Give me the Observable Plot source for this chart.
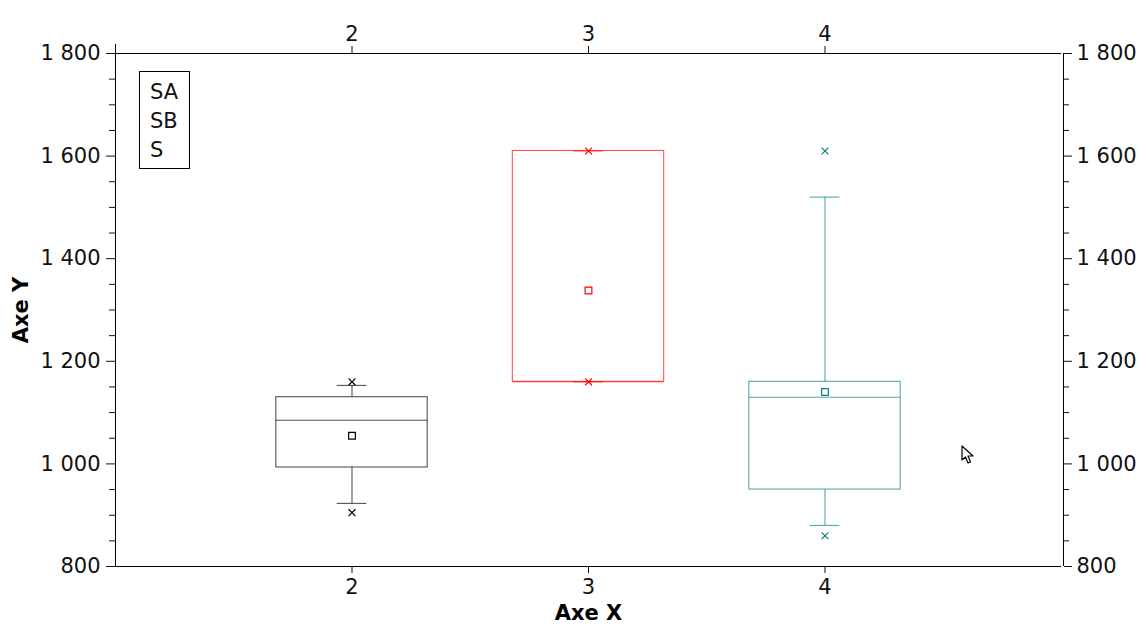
<!DOCTYPE html>
<html>
<head>
<meta charset="utf-8">
<script src="https://cdn.jsdelivr.net/npm/d3@7"></script>
<script src="https://cdn.jsdelivr.net/npm/@observablehq/plot@0.6"></script>
<style>
  html, body { margin: 0; padding: 0; background: white; }
  #wrap { position: relative; width: 1148px; height: 639px; font-family: "DejaVu Sans", sans-serif; }
  #legend { position: absolute; left: 139px; top: 71px; width: 51px; height: 98px; border: 1px solid black;
            font-size: 21px; line-height: 29px; padding-top: 6px; box-sizing: border-box; color: #111; }
  #legend div { padding-left: 10px; }
  #cursor { position: absolute; left: 961px; top: 445px; }
</style>
</head>
<body>
<div id="wrap"></div>
<script>
// ---- data ----
const categories = [2, 3, 4];
const colors     = ["black", "red", "teal"];
const whiskLow   = [923, 1160, 880];
const q1         = [993, 1160, 950];
const median     = [1085, 1160, 1130];
const q3         = [1130, 1610, 1160];
const whiskHigh  = [1153, 1610, 1520];
const meanV      = [1055, 1338, 1140];
const minV       = [905, 1160, 860];
const maxV       = [1160, 1610, 1610];
const legendLabels = ["SA", "SB", "S"];
const xTicks = [2, 3, 4];
const yTicks = [800, 1000, 1200, 1400, 1600, 1800];
const yMinorTicks = [850, 900, 950, 1050, 1100, 1150, 1250, 1300, 1350, 1450, 1500, 1550, 1650, 1700, 1750];

const rows = categories.map((c, i) => ({
  cat: c, color: colors[i], wl: whiskLow[i], q1: q1[i], med: median[i], q3: q3[i],
  wh: whiskHigh[i], mean: meanV[i], min: minV[i], max: maxV[i]
}));

const fmt = d3.formatLocale({decimal: ".", thousands: " ", grouping: [3], currency: ["", ""]}).format(",");
const halfBox = 0.32, halfCap = 0.063;
const lineOp = 0.68;

const chart = Plot.plot({
  width: 1148,
  height: 639,
  marginLeft: 115,
  marginRight: 87,
  marginTop: 53,
  marginBottom: 73,
  style: {fontFamily: "DejaVu Sans, sans-serif", fontSize: "21px", color: "#111", background: "white"},
  x: {type: "linear", domain: [1, 5]},
  y: {domain: [800, 1800]},
  marks: [
    // frame lines
    Plot.ruleY([1800], {stroke: "black"}),
    Plot.ruleY([800], {stroke: "black"}),
    Plot.ruleX([1], {stroke: "black", insetTop: -9}),
    Plot.ruleX([5], {stroke: "black", dx: 2}),
    // axes
    Plot.axisY({anchor: "left", ticks: yTicks, tickSize: 9, tickPadding: 6, tickFormat: fmt, label: null, fontSize: 21}),
    Plot.axisY({anchor: "left", ticks: yMinorTicks, tickSize: 6, text: null, label: null}),
    Plot.axisY({anchor: "right", ticks: yTicks, tickSize: 8, tickPadding: 5, tickFormat: fmt, label: null, fontSize: 21, dx: 2}),
    Plot.axisY({anchor: "right", ticks: yMinorTicks, tickSize: 5, text: null, label: null, dx: 2}),
    Plot.axisX({anchor: "bottom", ticks: xTicks, tickSize: 7, tickPadding: 6, tickFormat: d => String(d), label: null, fontSize: 21}),
    Plot.axisX({anchor: "top", ticks: xTicks, tickSize: 8, tickPadding: 5, tickFormat: d => String(d), label: null, fontSize: 21}),
    // axis titles
    Plot.text(["Axe Y"], {frameAnchor: "left", dx: -94.5, rotate: -90, text: d => d, textAnchor: "middle", lineAnchor: "middle", fontWeight: "bold", fontSize: 21, fill: "black"}),
    Plot.text(["Axe X"], {frameAnchor: "bottom", dy: 47, text: d => d, textAnchor: "middle", lineAnchor: "middle", fontWeight: "bold", fontSize: 21, fill: "black"}),
    // whiskers
    Plot.ruleX(rows, {x: "cat", y1: "q3", y2: "wh", stroke: "color", strokeOpacity: lineOp, strokeWidth: 1.1}),
    Plot.ruleX(rows, {x: "cat", y1: "wl", y2: "q1", stroke: "color", strokeOpacity: lineOp, strokeWidth: 1.1}),
    Plot.ruleY(rows, {y: "wh", x1: d => d.cat - halfCap, x2: d => d.cat + halfCap, stroke: "color", strokeOpacity: lineOp, strokeWidth: 1.1}),
    Plot.ruleY(rows, {y: "wl", x1: d => d.cat - halfCap, x2: d => d.cat + halfCap, stroke: "color", strokeOpacity: lineOp, strokeWidth: 1.1}),
    // boxes
    Plot.rect(rows, {x1: d => d.cat - halfBox, x2: d => d.cat + halfBox, y1: "q1", y2: "q3", fill: "none", stroke: "color", strokeOpacity: lineOp, strokeWidth: 1.1}),
    Plot.ruleY(rows, {y: "med", x1: d => d.cat - halfBox, x2: d => d.cat + halfBox, stroke: "color", strokeOpacity: lineOp, strokeWidth: 1.1}),
    // mean
    Plot.dot(rows, {x: "cat", y: "mean", symbol: "square", r: 3.8, stroke: "color", fill: "none", strokeWidth: 1.2}),
    // min / max
    Plot.dot(rows, {x: "cat", y: "min", symbol: "times", r: 3.2, stroke: "color", strokeWidth: 1.2}),
    Plot.dot(rows, {x: "cat", y: "max", symbol: "times", r: 3.2, stroke: "color", strokeWidth: 1.2})
  ]
});

const wrap = document.getElementById("wrap");
wrap.appendChild(chart);

const legend = document.createElement("div");
legend.id = "legend";
legendLabels.forEach(t => { const d = document.createElement("div"); d.textContent = t; legend.appendChild(d); });
wrap.appendChild(legend);

const cur = document.createElement("div");
cur.id = "cursor";
cur.innerHTML = '<svg width="14" height="20" viewBox="0 0 14 20"><path d="M1 1 L1 15 L4.5 12 L7 18 L9.5 17 L7 11 L12 11 Z" fill="white" stroke="black" stroke-width="1.2" stroke-linejoin="round"/></svg>';
wrap.appendChild(cur);
</script>
</body>
</html>
